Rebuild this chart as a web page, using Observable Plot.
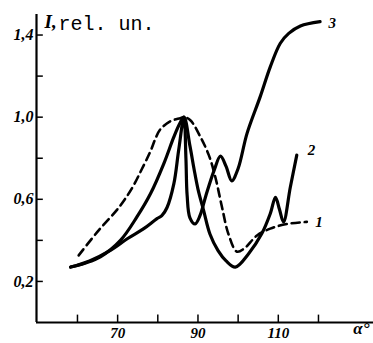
<!DOCTYPE html>
<html><head><meta charset="utf-8">
<script src="https://cdn.jsdelivr.net/npm/d3@7"></script>
<script src="https://cdn.jsdelivr.net/npm/@observablehq/plot@0.6"></script>
<style>body{margin:0;background:#fff}</style>
</head><body><div id="chart"></div>
<script>
// Curve 1 (dashed)
const curve1X = [60.3,64.9,70.3,73.6,76.1,78.2,79.4,80.6,83.1,85.6,86.5,88.1,90.6,92.7,94.3,96.0,97.6,99.7,101.5,104.7,108.0,112.2,117.1];
const curve1Y = [0.327,0.44,0.56,0.655,0.75,0.835,0.895,0.94,0.98,0.995,1.0,0.985,0.904,0.815,0.71,0.56,0.43,0.345,0.36,0.424,0.457,0.48,0.49];
// Curve 2 (solid, smooth left flank, minimum near 99)
const curve2X = [58.3,62.0,65.7,70.7,74.8,78.2,81.5,84.0,85.5,86.5,88.0,89.0,90.0,91.4,93.0,95.0,97.0,99.3,102.6,105.9,108.0,109.3,110.3,111.3,113.0,114.6];
const curve2Y = [0.27,0.29,0.32,0.40,0.514,0.628,0.774,0.904,0.97,1.0,0.86,0.75,0.65,0.546,0.43,0.35,0.30,0.27,0.335,0.433,0.53,0.61,0.55,0.49,0.66,0.815];
// Curve 3 (solid, kinked left flank, rises to 1.46)
const curve3X = [58.3,63.0,68.2,72.4,76.5,79.8,81.0,82.3,84.0,85.2,86.5,87.0,87.3,88.0,89.3,90.5,92.0,94.0,95.6,97.0,98.4,100.0,102.2,105.5,108.0,110.5,112.6,115.5,120.4];
const curve3Y = [0.27,0.30,0.351,0.408,0.457,0.506,0.52,0.56,0.676,0.84,1.0,0.80,0.62,0.51,0.48,0.52,0.62,0.74,0.81,0.76,0.69,0.75,0.92,1.10,1.245,1.36,1.408,1.444,1.465];

const curveLabels = ["1","2","3"];
const curveLabelX = [119.2,117.3,122.5];
const curveLabelY = [0.49,0.84,1.46];

const xTicks = [60,70,80,90,100,110,120];
const xTickLabels = [70,90,110];
const yTicks = [0.2,0.4,0.6,0.8,1.0,1.2,1.4];
const yTickLabels = [0.2,0.6,1.0,1.4];
const xDomain = [49.8,133.7];
const yDomain = [0,1.5];

const toRows = (xs, ys) => xs.map((x,i)=>({x, y: ys[i]}));
const c1 = toRows(curve1X, curve1Y);
const c2 = toRows(curve2X, curve2Y);
const c3 = toRows(curve3X, curve3Y);
const labels = curveLabels.map((t,i)=>({t, x: curveLabelX[i], y: curveLabelY[i]}));

const numFont = {fontFamily: "Liberation Serif", fontStyle: "italic", fontWeight: "bold", fontSize: 16, fill: "black"};
const fmt = v => d3.format(".1f")(v).replace(".", ",");

const chart = Plot.plot({
  width: 373, height: 343,
  marginLeft: 36, marginRight: 0, marginTop: 14, marginBottom: 21,
  x: {domain: xDomain, axis: null},
  y: {domain: yDomain, axis: null},
  marks: [
    Plot.ruleX([xDomain[0]], {stroke: "black", strokeWidth: 2.2}),
    Plot.ruleY([yDomain[0]], {stroke: "black", strokeWidth: 2.2}),
    Plot.ruleY(yTicks, {x1: xDomain[0], x2: xDomain[0] + 1.7, stroke: "black", strokeWidth: 1.5}),
    Plot.ruleX(xTicks, {y1: yDomain[0], y2: yDomain[0] + 0.036, stroke: "black", strokeWidth: 1.5}),
    Plot.text(yTickLabels, {x: xDomain[0], y: d => d, text: d => fmt(d), textAnchor: "end", dx: -3, ...numFont}),
    Plot.text(xTickLabels, {x: d => d, y: yDomain[0], text: d => String(d), dy: 11, ...numFont, fontSize: 15}),
    Plot.text(["α°"], {frameAnchor: "bottom-right", dx: -4, dy: 11, ...numFont, fontSize: 17}),
    Plot.text(["I,"], {frameAnchor: "top-left", dx: 8, dy: 0, lineAnchor: "top", textAnchor: "start", ...numFont, fontSize: 19}),
    Plot.text(["rel. un."], {frameAnchor: "top-left", dx: 22, dy: 1, lineAnchor: "top", textAnchor: "start", fontFamily: "Liberation Mono", fontSize: 20, fill: "black"}),
    Plot.line(c1, {x: "x", y: "y", curve: "catmull-rom", stroke: "black", strokeWidth: 2.6, strokeDasharray: "8,5"}),
    Plot.line(c2, {x: "x", y: "y", curve: "catmull-rom", stroke: "black", strokeWidth: 3.2}),
    Plot.line(c3, {x: "x", y: "y", curve: "catmull-rom", stroke: "black", strokeWidth: 3.2}),
    Plot.text(labels, {x: "x", y: "y", text: "t", textAnchor: "start", ...numFont, fontSize: 15})
  ]
});
document.getElementById("chart").appendChild(chart);
</script>
</body></html>
